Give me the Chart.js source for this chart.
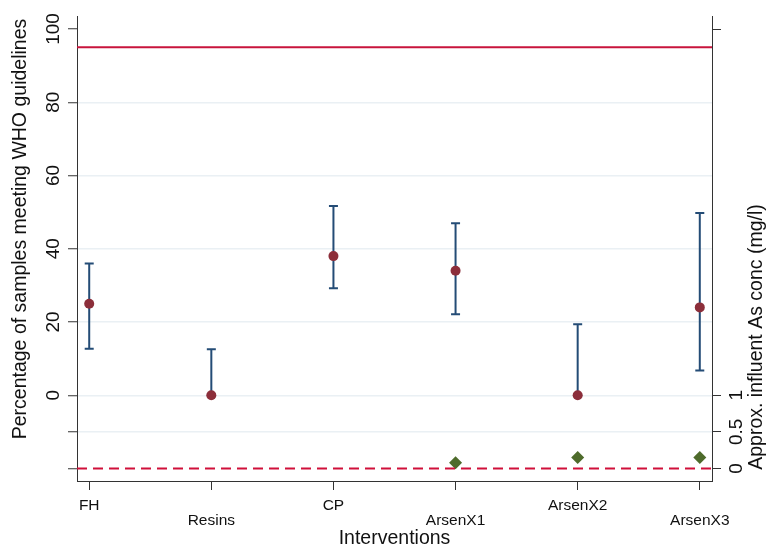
<!DOCTYPE html>
<html>
<head>
<meta charset="utf-8">
<script src="https://cdn.jsdelivr.net/npm/chart.js@4.4.0/dist/chart.umd.min.js"></script>
<style>
html, body { margin: 0; padding: 0; background: #fff; }
</style>
</head>
<body>
<canvas id="myChart" width="768" height="547"></canvas>
<script>
var interventions = ['FH', 'Resins', 'CP', 'ArsenX1', 'ArsenX2', 'ArsenX3'];
var pctMeeting = [25, 0, 38, 34, 0, 24];
var ciLow = [12.7, 0, 29.2, 22.1, 0, 6.8];
var ciHigh = [36, 12.6, 51.7, 47, 19.4, 49.8];
var influentAs = [null, null, null, 0.08, 0.15, 0.15];
var guideline = [95];
var asBaseline = [0];
var leftTicks = [-20, -10, 0, 20, 40, 60, 80, 100];
var leftLabels = [0, 20, 40, 60, 80, 100];
var leftGrid = [-10, 0, 20, 40, 60, 80];
var rightTicks = [0, 0.5, 1, 6];
var rightLabels = [0, 0.5, 1];

var xLow = -0.1, xHigh = interventions.length - 0.9;
var fontFam = '"Liberation Sans", Arial, Helvetica, sans-serif';
var axisCol = '#333333';

var errorBars = {
  id: 'errorBars',
  beforeDatasetsDraw: function (chart) {
    var ctx = chart.ctx, sx = chart.scales.x, sy = chart.scales.y;
    ctx.save();
    ctx.strokeStyle = '#244c76';
    ctx.lineWidth = 2;
    for (var i = 0; i < interventions.length; i++) {
      var px = sx.getPixelForValue(i);
      var top = sy.getPixelForValue(ciHigh[i]);
      var bot = sy.getPixelForValue(ciLow[i]);
      ctx.beginPath();
      ctx.moveTo(px, top); ctx.lineTo(px, bot);
      ctx.moveTo(px - 4.5, top); ctx.lineTo(px + 4.5, top);
      ctx.moveTo(px - 4.5, bot); ctx.lineTo(px + 4.5, bot);
      ctx.stroke();
    }
    ctx.restore();
  }
};

function vtext(ctx, str, x, y) {
  ctx.save();
  ctx.translate(x, y);
  ctx.rotate(-Math.PI / 2);
  ctx.fillText(str, 0, 0);
  ctx.restore();
}

// tick labels and titles, stata style (rotated y labels, staggered x labels)
var axisText = {
  id: 'axisText',
  afterDraw: function (chart) {
    var ctx = chart.ctx, sx = chart.scales.x, sy = chart.scales.y, sy2 = chart.scales.y2;
    var area = chart.chartArea;
    ctx.save();
    ctx.fillStyle = '#111';
    ctx.textAlign = 'center';
    ctx.textBaseline = 'middle';
    ctx.font = '19px ' + fontFam;
    leftLabels.forEach(function (v) { vtext(ctx, String(v), 54, sy.getPixelForValue(v)); });
    rightLabels.forEach(function (v) { vtext(ctx, String(v), 737, sy2.getPixelForValue(v)); });

    ctx.textBaseline = 'alphabetic';
    ctx.font = '15.5px ' + fontFam;
    interventions.forEach(function (c, i) {
      ctx.fillText(c, sx.getPixelForValue(i), i % 2 === 0 ? 509.5 : 525);
    });

    ctx.font = '19.5px ' + fontFam;
    ctx.fillText('Interventions', (area.left + area.right) / 2, 544);
    ctx.textBaseline = 'middle';
    vtext(ctx, 'Percentage of samples meeting WHO guidelines', 21, 229);
    vtext(ctx, 'Approx. influent As conc (mg/l)', 757, 337);
    ctx.restore();
  }
};

new Chart(document.getElementById('myChart'), {
  type: 'scatter',
  data: {
    datasets: [
      {
        type: 'line',
        data: [{ x: xLow, y: guideline[0] }, { x: xHigh, y: guideline[0] }],
        borderColor: '#c8143c', borderWidth: 2, pointRadius: 0, yAxisID: 'y'
      },
      {
        type: 'line',
        data: [{ x: xLow, y: asBaseline[0] }, { x: xHigh, y: asBaseline[0] }],
        borderColor: '#d0103a', borderWidth: 2, borderDash: [10, 6], pointRadius: 0, yAxisID: 'y2'
      },
      {
        data: pctMeeting.map(function (v, i) { return { x: i, y: v }; }),
        backgroundColor: '#8c2e3a', borderWidth: 0, pointRadius: 5, yAxisID: 'y'
      },
      {
        data: influentAs.map(function (v, i) { return { x: i, y: v }; }),
        backgroundColor: '#4e6b2b', borderWidth: 0, pointStyle: 'rectRot', pointRadius: 6.5, yAxisID: 'y2'
      }
    ]
  },
  options: {
    responsive: false,
    animation: false,
    layout: { padding: { top: 16, left: 0, right: 0, bottom: 0 } },
    plugins: { legend: { display: false }, tooltip: { enabled: false } },
    scales: {
      x: {
        type: 'linear', min: xLow, max: xHigh, bounds: 'data',
        afterBuildTicks: function (s) { s.ticks = interventions.map(function (c, i) { return { value: i }; }); },
        afterFit: function (s) { s.height = 66; },
        ticks: { display: false },
        grid: { drawOnChartArea: false, tickLength: 9, tickColor: axisCol, tickWidth: 1 },
        border: { color: axisCol, width: 1 }
      },
      y: {
        position: 'left', min: -23.4, max: 103.55, bounds: 'data',
        afterBuildTicks: function (s) { s.ticks = leftTicks.map(function (v) { return { value: v }; }); },
        afterFit: function (s) { s.width = 77; },
        ticks: { display: false },
        grid: {
          color: function (c) { return c.tick && leftGrid.indexOf(c.tick.value) >= 0 ? '#eaf0f4' : 'rgba(0,0,0,0)'; },
          lineWidth: 1.5, tickLength: 9, tickColor: axisCol, tickWidth: 1
        },
        border: { color: axisCol, width: 1 }
      },
      y2: {
        position: 'right', min: -0.17, max: 6.1775, bounds: 'data',
        afterBuildTicks: function (s) { s.ticks = rightTicks.map(function (v) { return { value: v }; }); },
        afterFit: function (s) { s.width = 56; },
        ticks: { display: false },
        grid: { drawOnChartArea: false, tickLength: 9, tickColor: axisCol, tickWidth: 1 },
        border: { color: axisCol, width: 1 }
      }
    }
  },
  plugins: [errorBars, axisText]
});
</script>
</body>
</html>
